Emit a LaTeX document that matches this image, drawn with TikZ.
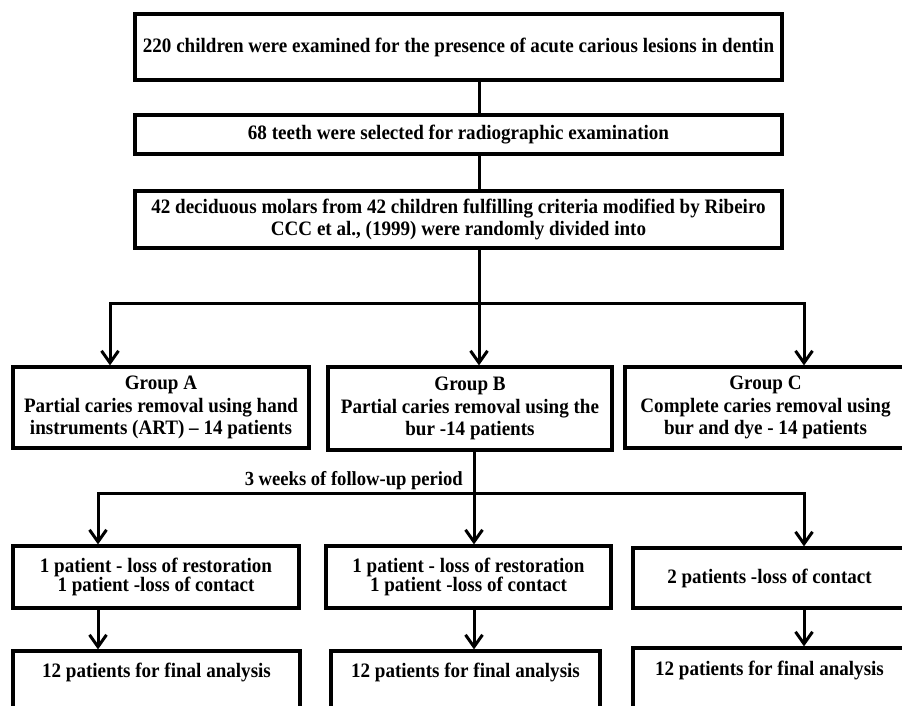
\documentclass[tikz,border=0pt]{standalone}
\usepackage{fontspec}
\setmainfont{Liberation Serif}[FakeStretch=0.93]
\usetikzlibrary{arrows.meta}
\begin{document}
\begin{tikzpicture}[x=1pt,y=-1pt,
  box/.style={draw, line width=3.2pt, align=center, inner sep=0pt,
    font=\fontsize{20.5}{22.5}\selectfont\bfseries},
  tight/.style={font=\fontsize{20.5}{19}\selectfont\bfseries},
  link/.style={line width=3pt},
  arr/.style={line width=3pt, -{Straight Barb[length=12pt,width=17pt]}},
  lbl/.style={inner sep=0pt, font=\fontsize{20}{22}\selectfont\bfseries}]
\useasboundingbox (0,0) rectangle (902,706);
\fill[white] (0,0) rectangle (902,706);

% column x positions
\coordinate (cx) at (479,0);
\coordinate (xa) at (110,0);
\coordinate (xc) at (804,0);
\coordinate (xb2) at (474,0);
\coordinate (xa2) at (98,0);

\node[box, minimum width=647, minimum height=66] (b1) at (458.5,47)
  {220 children were examined for the presence of acute carious lesions in dentin};
\node[box, minimum width=647, minimum height=39] (b2) at (458.5,134.5)
  {68 teeth were selected for radiographic examination};
\node[box, minimum width=647, minimum height=57] (b3) at (458.5,219.5)
  {42 deciduous molars from 42 children fulfilling criteria modified by Ribeiro\\CCC et al., (1999) were randomly divided into};

\node[box, minimum width=296, minimum height=81] (ga) at (161,407.5)
  {Group A\\Partial caries removal using hand\\instruments (ART) – 14 patients};
\node[box, minimum width=284, minimum height=83] (gb) at (470,408.5)
  {Group B\\Partial caries removal using the\\bur -14 patients};
\node[box, minimum width=281, minimum height=81] (gc) at (765.5,407.5)
  {Group C\\Complete caries removal using\\bur and dye - 14 patients};

\node[lbl, anchor=east] (fu) at (463,481) {3 weeks of follow-up period};

\node[box, tight, minimum width=286, minimum height=62] (ra) at (156,577)
  {1 patient - loss of restoration\\1 patient -loss of contact};
\node[box, tight, minimum width=285, minimum height=62] (rb) at (468.5,577)
  {1 patient - loss of restoration\\1 patient -loss of contact};
\node[box, tight, minimum width=273, minimum height=60] (rc) at (769.5,578)
  {2 patients -loss of contact};

\node[box, minimum width=287, minimum height=62, text height=14pt, text depth=23pt] (fa) at (156.5,682)
  {12 patients for final analysis};
\node[box, minimum width=269, minimum height=62, text height=14pt, text depth=23pt] (fb) at (465.5,682)
  {12 patients for final analysis};
\node[box, minimum width=273, minimum height=62, text height=14pt, text depth=21pt] (fc) at (769.5,679)
  {12 patients for final analysis};

% top chain
\draw[link] (b1.south -| cx) -- (b2.north -| cx);
\draw[link] (b2.south -| cx) -- (b3.north -| cx);
\coordinate (j1) at (479,303);
\draw[arr] (b3.south -| cx) -- (gb.north -| cx);
\draw[arr] (j1) -| (ga.north -| xa);
\draw[arr] (j1) -| (gc.north -| xc);

% follow-up split
\coordinate (j2) at (474,493);
\draw[link] (gb.south -| xb2) -- (j2);
\draw[arr] (j2) -| (ra.north -| xa2);
\draw[arr] (j2) -- (rb.north -| xb2);
\draw[arr] (j2) -| (rc.north -| xc);

% to final analysis
\draw[arr] (ra.south -| xa2) -- (fa.north -| xa2);
\draw[arr] (rb.south -| xb2) -- (fb.north -| xb2);
\draw[arr] (rc.south -| xc) -- (fc.north -| xc);
\end{tikzpicture}
\end{document}
